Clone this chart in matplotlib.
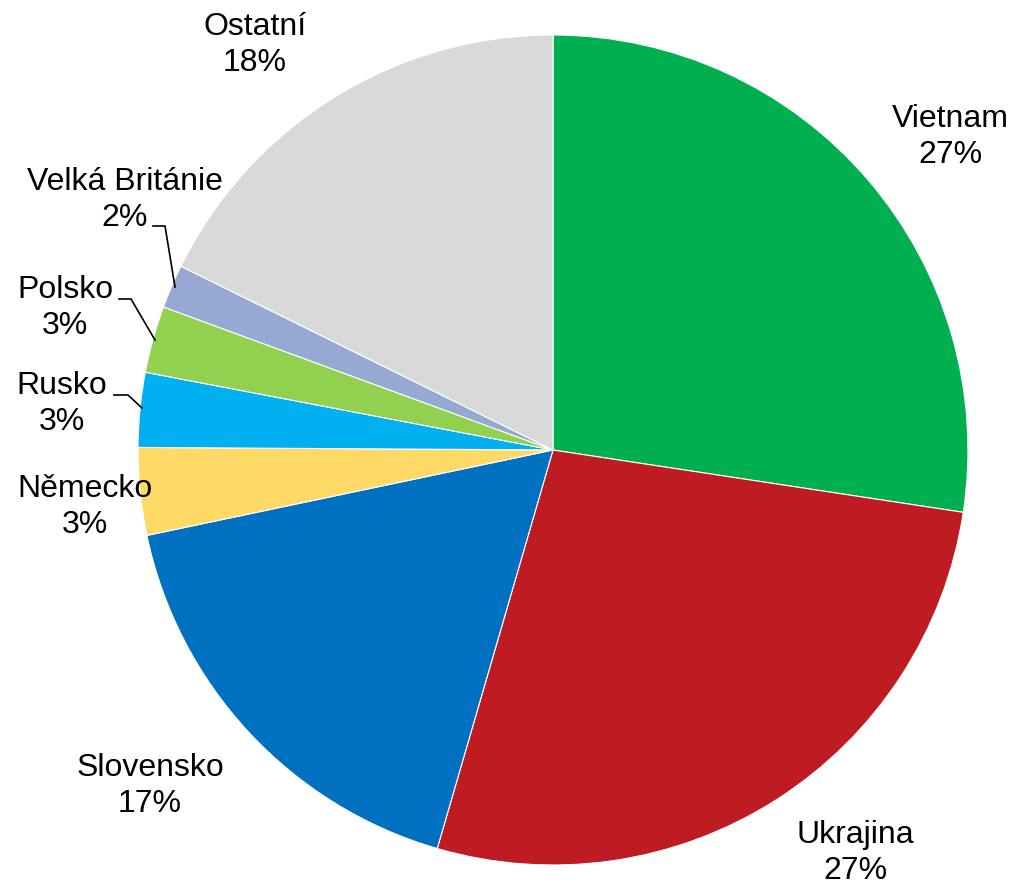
import matplotlib
matplotlib.use("Agg")
import matplotlib.pyplot as plt

labels = ["Vietnam", "Ukrajina", "Slovensko", "Německo", "Rusko", "Polsko", "Velká Británie", "Ostatní"]
values = [27.4, 27.1, 17.2, 3.4, 2.9, 2.6, 1.7, 17.7]
pct_labels = ["27%", "27%", "17%", "3%", "3%", "3%", "2%", "18%"]
colors = ["#00B050", "#BE1B22", "#0070C0", "#FFD966", "#00B0F0", "#92D050", "#95A9D3", "#D9D9D9"]

W, H = 1013, 888
fig = plt.figure(figsize=(W / 100, H / 100), dpi=100)
ax = fig.add_axes([0, 0, 1, 1])

cx, cy, r = 553, H - 450, 415
ax.pie(values, colors=colors, startangle=90, counterclock=False,
       center=(cx, cy), radius=r, frame=True,
       wedgeprops=dict(edgecolor="white", linewidth=0.8))
ax.set_xlim(0, W)
ax.set_ylim(0, H)
ax.set_aspect("equal")
ax.axis("off")

# label positions (pixel coords, y from top)
label_pos = [(950, 137), (855, 853), (150, 786), (85, 507), (62, 404), (65, 308), (125, 200), (255, 45)]
for lab, pct, (x, y) in zip(labels, pct_labels, label_pos):
    ax.text(x, H - y, f"{lab}\n{pct}", ha="center", va="center",
            fontsize=23, family="Liberation Sans", linespacing=1.27, color="black")

# leader lines
leaders = [
    [(153, 226), (165, 226), (175, 287)],
    [(119, 299), (131, 299), (155, 340)],
    [(114, 395), (128, 395), (142, 408)],
]
for pts in leaders:
    xs = [p[0] for p in pts]
    ys = [H - p[1] for p in pts]
    ax.plot(xs, ys, color="black", linewidth=1.2)

fig.savefig("out.png", dpi=100)
